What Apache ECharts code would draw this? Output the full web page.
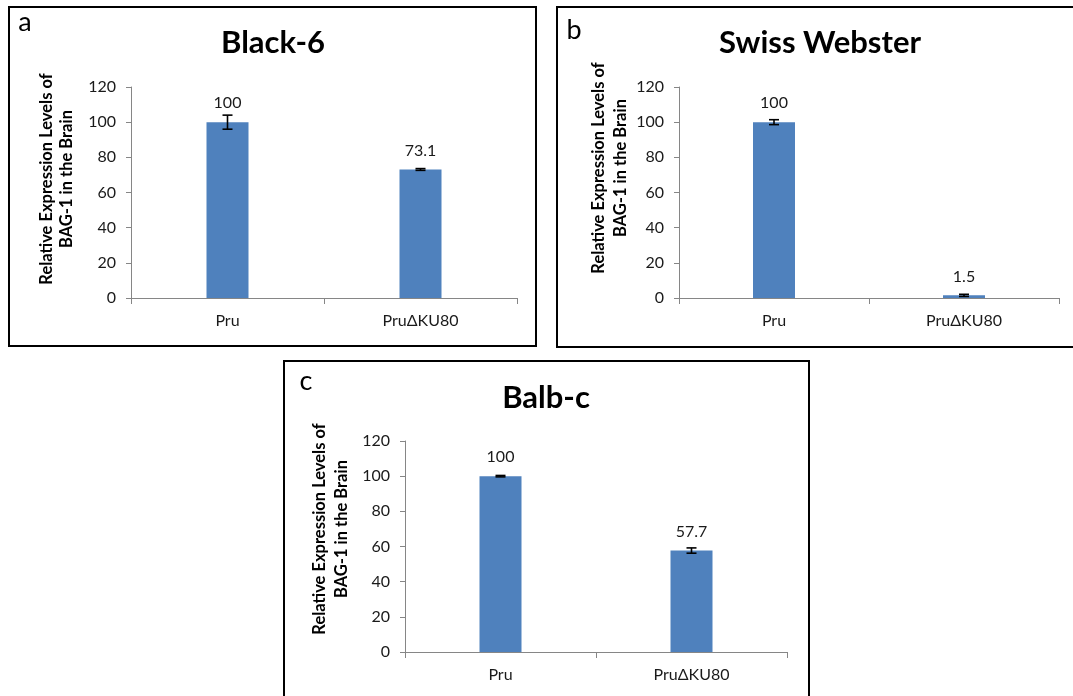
<!DOCTYPE html>
<html>
<head>
<meta charset="utf-8">
<script src="https://cdn.jsdelivr.net/npm/echarts@6/dist/echarts.min.js"></script>
<style>
html,body{margin:0;padding:0;background:#fff;}
#chart{width:1073px;height:696px;}
</style>
</head>
<body>
<div id="chart"></div>
<script>
const categories = ['Pru', 'PruΔKU80'];
const panelTitles = ['Black-6', 'Swiss Webster', 'Balb-c'];
const panelLetters = ['a', 'b', 'c'];
const black6Values = [100, 73.1];
const black6Errors = [4, 0.5];
const swissValues = [100, 1.5];
const swissErrors = [1.4, 0.6];
const balbValues = [100, 57.7];
const balbErrors = [0.4, 1.5];
const yMin = 0, yMax = 120, yInterval = 20;
const yNameLine1 = 'Relative Expression Levels of';
const yNameLine2 = 'BAG-1 in the Brain';

const FONT = 'Lato, "DejaVu Sans", sans-serif';
const AXIS_COLOR = '#868686';
const BAR_COLOR = '#4F81BD';

const grids = [
  {left: 131, top: 87, width: 386, height: 211},
  {left: 679, top: 87, width: 380, height: 211},
  {left: 405, top: 441, width: 382, height: 211}
];
const valueSets = [black6Values, swissValues, balbValues];
const errorSets = [black6Errors, swissErrors, balbErrors];

const xAxes = grids.map((g, i) => ({
  type: 'category', gridIndex: i, data: categories, boundaryGap: true,
  axisLine: {lineStyle: {color: AXIS_COLOR, width: 1}},
  axisTick: {show: true, length: 6, alignWithLabel: false, lineStyle: {color: AXIS_COLOR}},
  axisLabel: {color: '#1a1a1a', fontSize: 16, fontFamily: FONT, margin: 15},
  splitLine: {show: false}
}));
const yAxes = grids.map((g, i) => ({
  type: 'value', gridIndex: i, min: yMin, max: yMax, interval: yInterval,
  axisLine: {show: true, lineStyle: {color: AXIS_COLOR, width: 1}},
  axisTick: {show: true, length: 5, lineStyle: {color: AXIS_COLOR}},
  axisLabel: {color: '#1a1a1a', fontSize: 16, fontFamily: FONT, margin: 15},
  splitLine: {show: false}
}));

const series = [];
valueSets.forEach((vals, i) => {
  series.push({
    type: 'bar', xAxisIndex: i, yAxisIndex: i, data: vals, barWidth: 42,
    itemStyle: {color: BAR_COLOR},
    label: {show: true, position: 'top', distance: 11, color: '#1a1a1a', fontSize: 16, fontFamily: FONT},
    z: 2
  });
  series.push({
    type: 'custom', xAxisIndex: i, yAxisIndex: i, z: 5,
    data: vals.map((v, j) => [j, v, errorSets[i][j]]),
    encode: {x: 0, y: 1},
    renderItem: function (params, api) {
      const x = api.value(0), y = api.value(1), e = api.value(2);
      const top = api.coord([x, y + e]);
      const bot = api.coord([x, y - e]);
      const h = 5;
      const st = {stroke: '#000', lineWidth: 1.6};
      return {type: 'group', children: [
        {type: 'line', shape: {x1: top[0], y1: top[1], x2: bot[0], y2: bot[1]}, style: st},
        {type: 'line', shape: {x1: top[0] - h, y1: top[1], x2: top[0] + h, y2: top[1]}, style: st},
        {type: 'line', shape: {x1: bot[0] - h, y1: bot[1], x2: bot[0] + h, y2: bot[1]}, style: st}
      ]};
    }
  });
});

const boxes = [
  {x: 9, y: 7, w: 527, h: 339},
  {x: 557, y: 7, w: 530, h: 340},
  {x: 284, y: 361, w: 525, h: 360}
];
const titlePos = [[273, 43], [820, 43], [546, 398]];
const letterPos = [[25, 22], [574, 30], [306, 381]];
const yNamePos = [[47, 67, 179], [599, 621, 168], [320, 342, 529]];

const graphic = [];
boxes.forEach(b => graphic.push({
  type: 'rect', shape: {x: b.x, y: b.y, width: b.w, height: b.h},
  style: {fill: 'none', stroke: '#000', lineWidth: 2}, z: 1
}));
panelTitles.forEach((t, i) => graphic.push({
  type: 'text', x: titlePos[i][0], y: titlePos[i][1],
  style: {text: t, fill: '#000', font: 'bold 31px ' + FONT, textAlign: 'center', textVerticalAlign: 'middle'}
}));
panelLetters.forEach((t, i) => graphic.push({
  type: 'text', x: letterPos[i][0], y: letterPos[i][1],
  style: {text: t, fill: '#000', font: '27px ' + FONT, textAlign: 'center', textVerticalAlign: 'middle'}
}));
yNamePos.forEach((p) => {
  graphic.push({type: 'text', x: p[0], y: p[2], rotation: Math.PI / 2,
    style: {text: yNameLine1, fill: '#000', font: 'bold 16.5px ' + FONT, textAlign: 'center', textVerticalAlign: 'middle'}});
  graphic.push({type: 'text', x: p[1], y: p[2], rotation: Math.PI / 2,
    style: {text: yNameLine2, fill: '#000', font: 'bold 16.5px ' + FONT, textAlign: 'center', textVerticalAlign: 'middle'}});
});

const chart = echarts.init(document.getElementById('chart'), null, {renderer: 'canvas'});
chart.setOption({
  animation: false,
  backgroundColor: '#fff',
  grid: grids.map(g => Object.assign({outerBoundsMode: 'none', containLabel: false}, g)),
  xAxis: xAxes,
  yAxis: yAxes,
  series: series,
  graphic: graphic
});
</script>
</body>
</html>
